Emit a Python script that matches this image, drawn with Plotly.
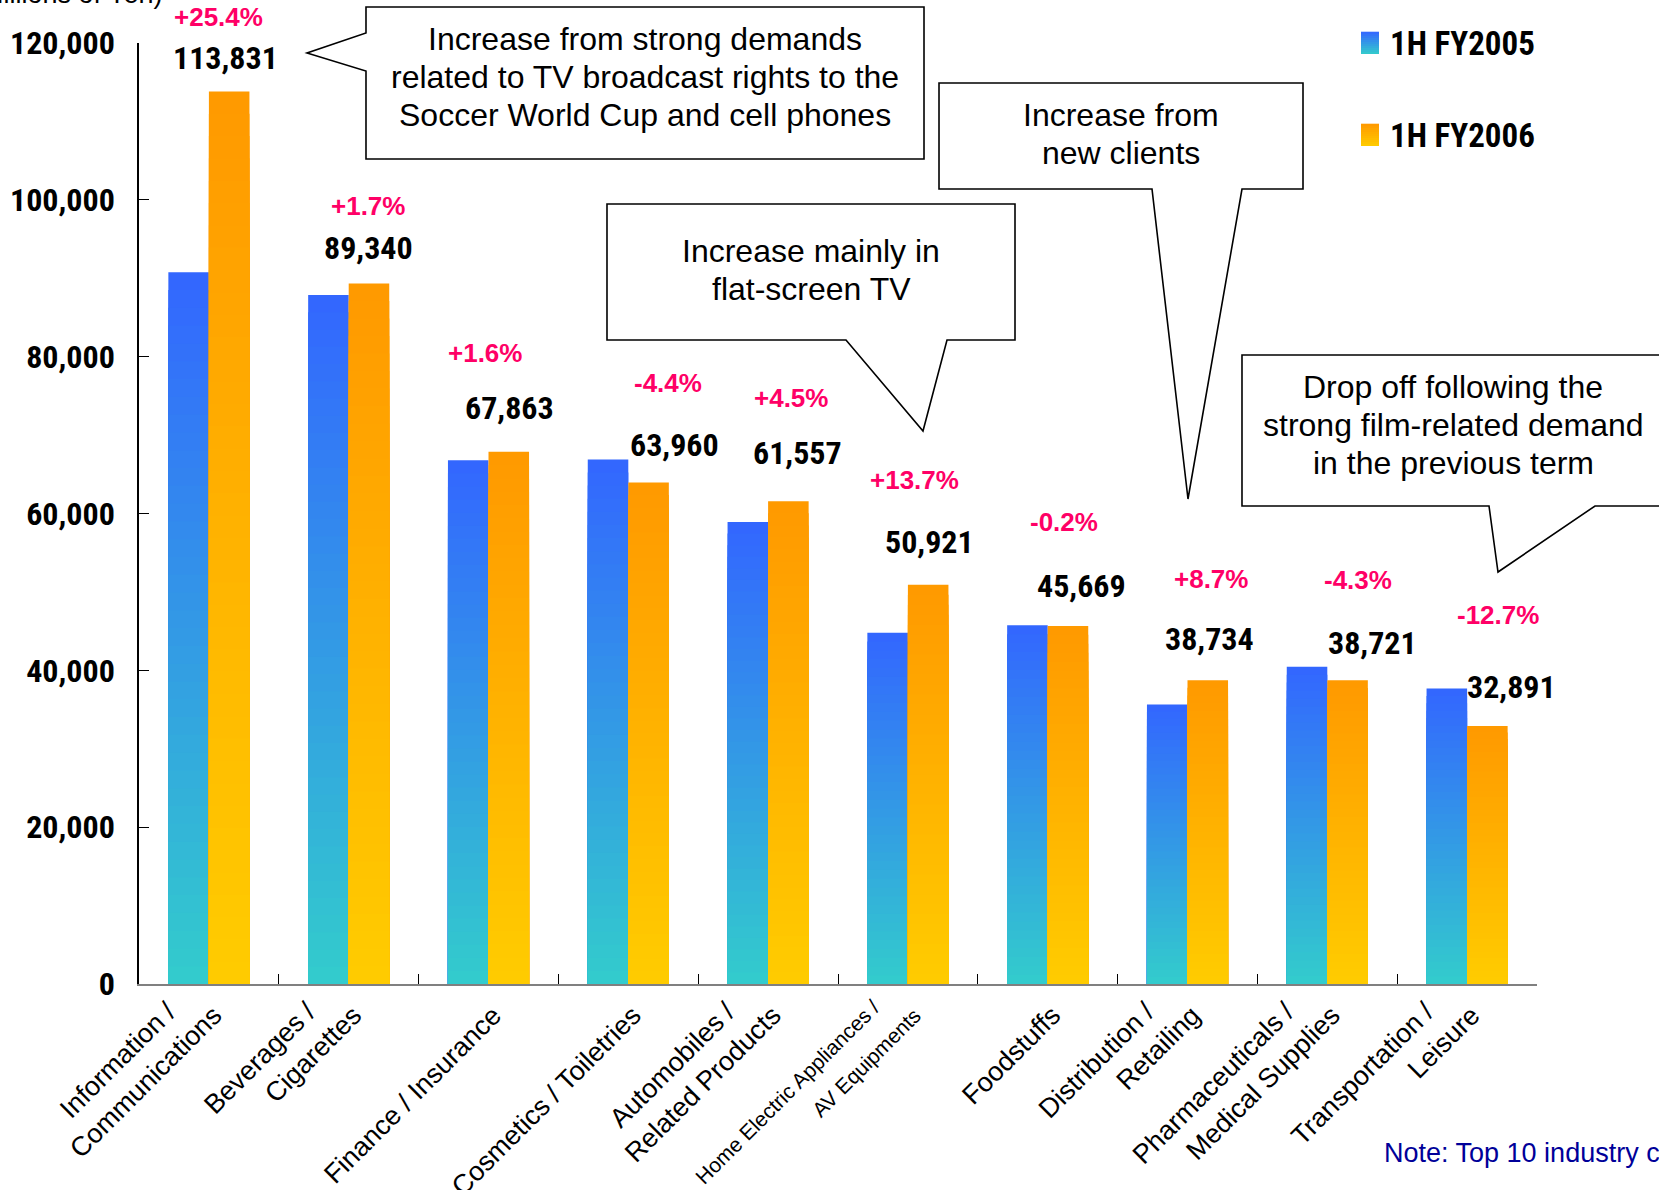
import plotly.graph_objects as go

# ---------------- data ----------------
PAD = "&nbsp;" * 4
categories = [
    "Information /" + PAD + "<br>Communications",
    "Beverages /" + PAD + "<br>Cigarettes",
    "&nbsp;<br>Finance / Insurance",
    "&nbsp;<br>Cosmetics / Toiletries",
    "Automobiles /" + PAD + "<br>Related Products",
    "<span style='font-size:21px'>Home Electric Appliances /" + PAD + "</span><br><span style='font-size:21px'>AV Equipments</span>",
    "&nbsp;<br>Foodstuffs",
    "Distribution /" + PAD + "<br>Retailing",
    "Pharmaceuticals /" + PAD + "<br>Medical Supplies",
    "Transportation /" + PAD + "<br>Leisure",
]
fy2005 = [90770, 87850, 66790, 66900, 58910, 44790, 45760, 35630, 40460, 37680]
fy2006 = [113831, 89340, 67863, 63960, 61557, 50921, 45669, 38734, 38721, 32891]
value_labels = ["113,831", "89,340", "67,863", "63,960", "61,557", "50,921", "45,669", "38,734", "38,721", "32,891"]
pct_labels = ["+25.4%", "+1.7%", "+1.6%", "-4.4%", "+4.5%", "+13.7%", "-0.2%", "+8.7%", "-4.3%", "-12.7%"]
series_names = ["1H FY2005", "1H FY2006"]
y_ticks = [0, 20000, 40000, 60000, 80000, 100000, 120000]

callout_texts = [
    ["Increase from strong demands", "related to TV broadcast rights to the", "Soccer World Cup and cell phones"],
    ["Increase from", "new clients"],
    ["Increase mainly in", "flat-screen TV"],
    ["Drop off following the", "strong film-related demand", "in the previous term"],
]
note_text = "Note: Top 10 industry categories"
y_title = "(Millions of Yen)"

# ---------------- styling ----------------
W, H = 1659, 1190
L, R, T, B = 139, 1537, 43, 984  # plot area in page pixels
NARROW = "Liberation Sans Narrow, Arial Narrow, Roboto Condensed, DejaVu Sans Condensed, sans-serif"
ARIAL = "Liberation Sans, Arial, sans-serif"
BLUE_TOP, BLUE_BOT = "#3366FF", "#33CCCC"
ORG_TOP, ORG_BOT = "#FF9900", "#FFCC00"
PINK = "#FF0066"
BAR_W = 0.29
N_STEPS = 40
LINE_GAP = 38


def hex2rgb(h):
    h = h.lstrip("#")
    return tuple(int(h[i:i + 2], 16) for i in (0, 2, 4))


def mix(c_bot, c_top, t):
    a, b = hex2rgb(c_bot), hex2rgb(c_top)
    return "rgb(%d,%d,%d)" % tuple(round(a[k] + (b[k] - a[k]) * t) for k in range(3))


def px(x):
    return (x - L) / (R - L)


def py(y):
    return (B - y) / (B - T)


fig = go.Figure()

# gradient bars: overlaid bars of decreasing height, each drawn over the previous
for values, offset, top, bot in [(fy2005, -BAR_W, BLUE_TOP, BLUE_BOT), (fy2006, 0.0, ORG_TOP, ORG_BOT)]:
    for j in range(N_STEPS):
        frac = (N_STEPS - j) / N_STEPS
        t = (N_STEPS - j - 0.5) / N_STEPS
        fig.add_trace(go.Bar(
            x=categories,
            y=[v * frac for v in values],
            offset=offset,
            width=BAR_W,
            marker=dict(color=mix(bot, top, t), line=dict(width=0)),
            showlegend=False,
            hoverinfo="skip",
        ))

annotations = []
shapes = []

# value labels (offsets relative to category centre / bar top)
val_dx = [0.122, 0.145, 0.147, 0.334, 0.207, 0.151, 0.245, 0.154, 0.32, 0.321]
val_dy = [33, 35, 44, 37, 48, 43, 40, 41, 37, 39]
pct_dx = [0.072, 0.138, -0.025, 0.284, 0.164, 0.044, 0.117, 0.168, 0.22, 0.221]
pct_dy = [74, 77, 99, 99, 103, 105, 104, 101, 100, 111]
for i in range(len(categories)):
    annotations.append(dict(
        x=i + val_dx[i], y=fy2006[i], xref="x", yref="y", yshift=val_dy[i],
        text=value_labels[i], showarrow=False, xanchor="center", yanchor="middle",
        font=dict(family=NARROW, size=32, color="black", weight="bold"),
    ))
    annotations.append(dict(
        x=i + pct_dx[i], y=fy2006[i], xref="x", yref="y", yshift=pct_dy[i],
        text=pct_labels[i], showarrow=False, xanchor="center", yanchor="middle",
        font=dict(family=ARIAL, size=26, color=PINK, weight="bold"),
    ))

# callout boxes (page pixel geometry)
callouts = [
    ([(366, 7), (924, 7), (924, 159), (366, 159), (366, 71), (307, 53), (366, 33)], (645, 77)),
    ([(939, 83), (1303, 83), (1303, 189), (1242, 189), (1188, 499), (1152, 189), (939, 189)], (1121, 134)),
    ([(607, 204), (1015, 204), (1015, 340), (947, 340), (923, 431), (846, 340), (607, 340)], (811, 270)),
    ([(1242, 355), (1700, 355), (1700, 506), (1595, 506), (1498, 572), (1489, 506), (1242, 506)], (1453, 425)),
]
for (pts, (tx, ty)), lines in zip(callouts, callout_texts):
    path = "M " + " L ".join("%.5f,%.5f" % (px(a), py(b)) for a, b in pts) + " Z"
    shapes.append(dict(type="path", path=path, xref="paper", yref="paper",
                       line=dict(color="black", width=1.6), fillcolor="white", layer="above"))
    n = len(lines)
    for k, line in enumerate(lines):
        ly = ty + (k - (n - 1) / 2) * LINE_GAP
        annotations.append(dict(
            x=px(tx), y=py(ly), xref="paper", yref="paper", text=line, showarrow=False,
            xanchor="center", yanchor="middle", align="center",
            font=dict(family=ARIAL, size=32, color="black"),
        ))

# legend (manual, gradient swatches)
for name, (ycen, top, bot) in zip(series_names, [(43, BLUE_TOP, BLUE_BOT), (135, ORG_TOP, ORG_BOT)]):
    y0, y1 = ycen - 11, ycen + 11
    n = 11
    for k in range(n):
        ya = y1 - (y1 - y0) * k / n
        yb = y1 - (y1 - y0) * (k + 1) / n
        shapes.append(dict(type="rect", xref="paper", yref="paper",
                           x0=px(1361), x1=px(1379), y0=py(ya), y1=py(yb - 0.3),
                           line=dict(width=0), fillcolor=mix(bot, top, (k + 0.5) / n)))
    annotations.append(dict(
        x=px(1388), y=py(ycen), xref="paper", yref="paper", text=name, showarrow=False,
        xanchor="left", yanchor="middle",
        font=dict(family=NARROW, size=33, color="black", weight="bold"),
    ))

# axis title (cut at the top of the page, as in the original)
annotations.append(dict(
    x=px(165), y=py(11), xref="paper", yref="paper", text=y_title, showarrow=False,
    xanchor="right", yanchor="bottom", font=dict(family=ARIAL, size=27, color="black"),
))
# note
annotations.append(dict(
    x=px(1382), y=py(1153), xref="paper", yref="paper", text=note_text, showarrow=False,
    xanchor="left", yanchor="middle", font=dict(family=ARIAL, size=27, color="#000099"),
))

fig.update_layout(
    width=W, height=H,
    margin=dict(l=L, r=W - R, t=T, b=H - B, pad=0, autoexpand=False),
    paper_bgcolor="white", plot_bgcolor="white",
    barmode="overlay",
    showlegend=False,
    annotations=annotations,
    shapes=shapes,
    xaxis=dict(
        type="category", range=[-0.5, len(categories) - 0.5], automargin=False,
        tickangle=-45, ticks="inside", tickson="boundaries", ticklen=10, tickwidth=1.3,
        tickcolor="black", showline=True, linecolor="#808080", linewidth=2,
        showgrid=False, zeroline=False,
        ticklabelshift=-20, ticklabelstandoff=-22,
        tickfont=dict(family=ARIAL, size=27, color="black"),
    ),
    yaxis=dict(
        range=[0, 120000], tickmode="array", tickvals=y_ticks, automargin=False,
        tickformat=",d", ticks="inside", ticklen=10, tickwidth=1.3, tickcolor="black",
        showline=True, linecolor="black", linewidth=1.5, showgrid=False, zeroline=False,
        ticklabelstandoff=16,
        tickfont=dict(family=NARROW, size=32, color="black", weight="bold"),
    ),
)

fig.write_html(
    "out.html",
    config={"displayModeBar": False},
    post_script="document.body.style.margin='0';document.body.style.overflow='hidden';",
)
